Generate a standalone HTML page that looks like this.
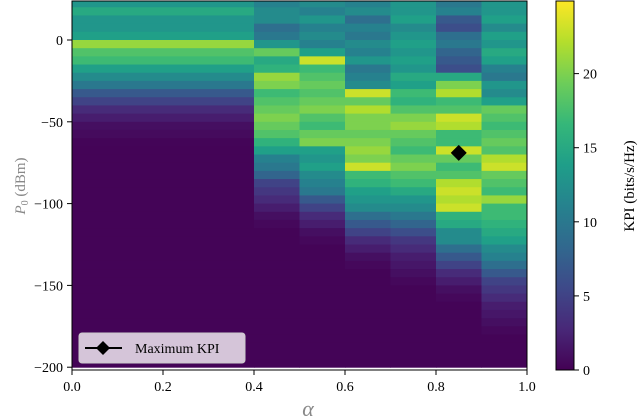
<!DOCTYPE html>
<html><head><meta charset="utf-8">
<style>
body{margin:0;background:#fff;}
svg{display:block;font-family:"Liberation Serif",serif;}
</style></head>
<body>
<svg id="chart" width="640" height="418" xmlns="http://www.w3.org/2000/svg">
  <g id="cells"></g>
  <rect x="72" y="1" width="455" height="369" fill="none" stroke="#000" stroke-width="1"/>
  <g id="xaxis"></g>
  <g id="yaxis"></g>
  <text x="308" y="416" font-size="22" font-style="italic" fill="#888" text-anchor="middle">α</text>
  <text transform="translate(25,186) rotate(-90)" font-size="15" fill="#888" text-anchor="middle"><tspan font-style="italic">P</tspan><tspan font-size="10" dy="3">0</tspan><tspan dy="-3"> (dBm)</tspan></text>
  <g id="marker"></g>
  <g>
    <rect x="79" y="333" width="166" height="30" rx="3" fill="#ddd0e0" fill-opacity="0.95" stroke="#ccc"/>
    <line x1="85" y1="348" x2="122" y2="348" stroke="#000" stroke-width="2"/>
    <polygon points="103,341 110,348 103,355 96,348" fill="#000"/>
    <text x="135" y="353" font-size="14" fill="#000">Maximum KPI</text>
  </g>
  <defs><linearGradient id="vir" x1="0" y1="1" x2="0" y2="0"></linearGradient></defs>
  <rect x="556" y="1" width="18" height="369" fill="url(#vir)" stroke="#000"/>
  <g id="cbaxis"></g>
  <text transform="translate(634,186) rotate(-90)" font-size="15" fill="#000" text-anchor="middle">KPI (bits/s/Hz)</text>
</svg>
<script>
// alpha column bins (start,end)
const alphaStarts = [0.0, 0.4, 0.5, 0.6, 0.7, 0.8, 0.9];
const alphaEnds   = [0.4, 0.5, 0.6, 0.7, 0.8, 0.9, 1.0];
const rowTopP = 25, rowStep = 5, nRows = 45;
const colA = [13,15,13,13,14,21,18,17,14,12,10,7,5,3,2,1,0.7,0.3];
const colB = [11,12,12,9,10,13,19,15,16,21,20,17,18,19,20,19,18,16,14,11,10,8,5,4,3,2,1,0.5];
const colC = [12,11,13,11,12,11,14,23,17,18,19,18,19,20,18,17,19,20,14,13,14,12,11,10,7,5,3,2,1,0.5];
const colD = [11,12,9,11,10,12,11,13,10,11,12,23,19,22,20,20,19,20,21,20,23,17,16,14,13,12,9,7,5,3,2,1,0.5];
const colE = [13,13,14,12,13,14,13,14,13,15,14,17,16,18,20,21,19,18,17,19,20,18,17,15,13,12,10,8,6,4,3,2,1.5,1,0.5];
const colF = [10,11,7,6,9,10,8,7,6,15,20,22,17,18,23,22,17,17,23,19,17,18,22,23,22,23,16,15,12,12,9,7,5,3,2,1,0.5];
const colG = [13,13,14,12,14,13,15,14,11,10,13,12,14,19,18,17,18,19,18,22,23,19,18,17,21,17,17,16,15,14,12,11,9,7,5,4,3,2,1.5,1,0.5];
const columns = [colA,colB,colC,colD,colE,colF,colG];
const floorValue = 0.2;
const maxKpiAlpha = [0.85];
const maxKpiP = [-69];
const xTicks = [0.0,0.2,0.4,0.6,0.8,1.0];
const xTickLabels = ["0.0","0.2","0.4","0.6","0.8","1.0"];
const yTicks = [0,-50,-100,-150,-200];
const yTickLabels = ["0","\u221250","\u2212100","\u2212150","\u2212200"];
const cbTicks = [0,5,10,15,20];
const cbTickLabels = ["0","5","10","15","20"];
const vmax = 24.9;

const X = a => 72 + a*455;
const Y = p => 40 - p*1.636;
const CB = v => 370 - v*(369/vmax);
const vir = [[68,1,84],[72,40,120],[62,73,137],[49,104,142],[38,130,142],[31,158,137],[53,183,121],[109,205,89],[180,222,44],[253,231,37]];
function color(v){
  let t=Math.max(0,Math.min(1,v/vmax))*(vir.length-1);
  let i=Math.min(Math.floor(t),vir.length-2), f=t-i;
  const c=vir[i].map((x,k)=>Math.round(x+(vir[i+1][k]-x)*f));
  return `rgb(${c[0]},${c[1]},${c[2]})`;
}
const NS="http://www.w3.org/2000/svg";
function mk(tag,attrs,parent){const e=document.createElementNS(NS,tag);for(const k in attrs)e.setAttribute(k,attrs[k]);parent.appendChild(e);return e;}

const cells=document.getElementById('cells');
columns.forEach((col,ci)=>{
  for(let r=0;r<nRows;r++){
    const v = r<col.length?col[r]:floorValue;
    const pTop=rowTopP-r*rowStep, pBot=pTop-rowStep;
    const y1=Math.max(1,Y(pTop)), y2=Math.min(370,Y(pBot));
    if(y2<=y1) continue;
    const e=mk('rect',{x:X(alphaStarts[ci]),y:y1,width:X(alphaEnds[ci])-X(alphaStarts[ci])+0.5,height:y2-y1+0.5,fill:color(v)},cells);
    
    
  }
});

const xa=document.getElementById('xaxis');
xTicks.forEach((t,i)=>{
  const l=mk('line',{x1:X(t),x2:X(t),y1:370,y2:375,stroke:'#000'},xa);
  
  
  const tx=mk('text',{x:X(t),y:391,'font-size':14,'text-anchor':'middle'},xa);
  tx.textContent=xTickLabels[i];
  
  
});
const ya=document.getElementById('yaxis');
yTicks.forEach((t,i)=>{
  const l=mk('line',{x1:67,x2:72,y1:Y(t),y2:Y(t),stroke:'#000'},ya);
  
  
  const tx=mk('text',{x:63,y:Y(t)+5,'font-size':14,'text-anchor':'end'},ya);
  tx.textContent=yTickLabels[i];
  
  
});
const mg=document.getElementById('marker');
maxKpiAlpha.forEach((a,i)=>{
  const cx=X(a), cy=Y(maxKpiP[i]);
  const p=mk('polygon',{points:`${cx},${cy-8} ${cx+8},${cy} ${cx},${cy+8} ${cx-8},${cy}`,fill:'#000'},mg);
  
  
});
const grad=document.getElementById('vir');
vir.forEach((c,i)=>{
  const s=mk('stop',{offset:(i/(vir.length-1)),'stop-color':`rgb(${c})`},grad);
});
const cb=document.getElementById('cbaxis');
cbTicks.forEach((t,i)=>{
  const l=mk('line',{x1:574,x2:579,y1:CB(t),y2:CB(t),stroke:'#000'},cb);
  
  
  const tx=mk('text',{x:583,y:CB(t)+5,'font-size':14},cb);
  tx.textContent=cbTickLabels[i];
  
  
});
</script>
</body></html>
